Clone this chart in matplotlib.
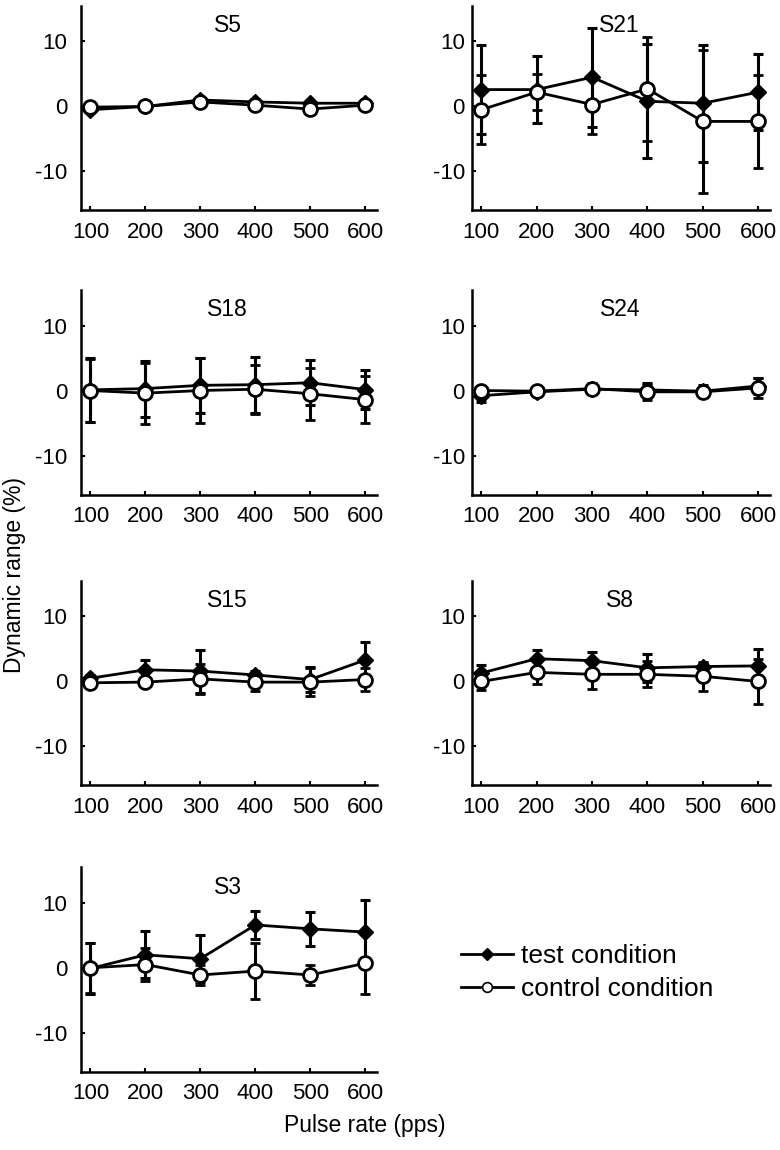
import matplotlib
matplotlib.use("Agg")
import matplotlib.pyplot as plt
from matplotlib.lines import Line2D

plt.rcParams['font.family'] = ['Liberation Sans', 'DejaVu Sans']
plt.rcParams['axes.unicode_minus'] = False

rates = [100, 200, 300, 400, 500, 600]
subjects = ['S5', 'S21', 'S18', 'S24', 'S15', 'S8', 'S3']

# test condition (filled diamonds): mean and error
test_mean = {
    'S5':  [-0.5, 0.0, 1.0, 0.7, 0.5, 0.5],
    'S21': [2.6, 2.6, 4.5, 0.8, 0.5, 2.2],
    'S18': [0.1, 0.3, 0.8, 0.9, 1.2, 0.15],
    'S24': [-0.8, -0.2, 0.2, 0.1, -0.1, 0.7],
    'S15': [0.5, 1.8, 1.6, 1.0, 0.3, 3.3],
    'S8':  [1.3, 3.5, 3.2, 2.1, 2.3, 2.4],
    'S3':  [-0.1, 2.0, 1.4, 6.6, 6.0, 5.5],
}
test_err = {
    'S5':  [0.4, 0.4, 0.5, 0.4, 0.4, 0.4],
    'S21': [6.9, 5.1, 7.6, 8.8, 9.0, 5.8],
    'S18': [4.9, 4.3, 4.2, 4.3, 3.5, 3.0],
    'S24': [1.0, 0.5, 0.8, 1.1, 0.9, 1.3],
    'S15': [0.5, 1.5, 3.3, 0.6, 1.9, 2.7],
    'S8':  [1.3, 1.3, 1.4, 2.2, 0.5, 2.6],
    'S3':  [3.9, 3.6, 3.6, 2.1, 2.6, 5.0],
}
# control condition (open circles): mean and error
ctrl_mean = {
    'S5':  [-0.1, 0.0, 0.7, 0.2, -0.4, 0.2],
    'S21': [-0.5, 2.2, 0.3, 2.7, -2.3, -2.3],
    'S18': [0.0, -0.4, 0.0, 0.2, -0.5, -1.4],
    'S24': [0.0, -0.1, 0.3, -0.2, -0.2, 0.4],
    'S15': [-0.2, -0.1, 0.4, -0.1, -0.1, 0.3],
    'S8':  [0.0, 1.4, 1.1, 1.1, 0.8, 0.0],
    'S3':  [0.0, 0.5, -1.1, -0.5, -1.1, 0.7],
}
ctrl_err = {
    'S5':  [0.4, 0.4, 0.4, 0.4, 0.4, 0.4],
    'S21': [5.3, 2.8, 4.5, 8.0, 11.0, 7.2],
    'S18': [4.8, 4.7, 5.0, 3.8, 4.0, 3.6],
    'S24': [0.6, 0.6, 0.9, 1.2, 0.8, 1.5],
    'S15': [0.4, 0.4, 2.3, 1.3, 2.1, 1.7],
    'S8':  [1.3, 1.8, 2.3, 2.0, 2.2, 3.4],
    'S3':  [3.8, 2.5, 1.5, 4.3, 1.6, 4.7],
}

fig = plt.figure(figsize=(7.8, 11.5), dpi=100)

col_x = [0.104, 0.605]
col_w = [0.379, 0.382]
row_y = [0.817, 0.570, 0.317, 0.068]
h = 0.178

for i, s in enumerate(subjects):
    r, c = divmod(i, 2)
    ax = fig.add_axes([col_x[c], row_y[r], col_w[c], h])
    ax.errorbar(rates, test_mean[s], yerr=test_err[s], color='black', lw=2.0,
                elinewidth=2.2, capsize=3.6, capthick=2.2, marker='D', ms=8,
                mfc='black', mec='black', zorder=2)
    ax.errorbar(rates, ctrl_mean[s], yerr=ctrl_err[s], color='black', lw=2.0,
                elinewidth=2.2, capsize=3.6, capthick=2.2, marker='o', ms=10,
                mfc='white', mec='black', mew=2.0, zorder=3)
    ax.set_xlim(83, 621)
    ax.set_ylim(-16, 15.5)
    ax.set_xticks(rates)
    ax.set_yticks([-10, 0, 10])
    ax.spines['top'].set_visible(False)
    ax.spines['right'].set_visible(False)
    ax.spines['left'].set_linewidth(1.8)
    ax.spines['bottom'].set_linewidth(1.8)
    ax.tick_params(direction='in', length=3, width=1.5, labelsize=16)
    ax.tick_params(axis='x', pad=8)
    ax.tick_params(axis='y', pad=10 if c == 0 else 5)
    ax.text(350, 12.4, s, ha='center', va='center', fontsize=16.5)

handles = [
    Line2D([], [], color='black', lw=2.0, marker='D', ms=6, mfc='black'),
    Line2D([], [], color='black', lw=2.0, marker='o', ms=7, mfc='white', mew=1.2),
]
fig.legend(handles, ['test condition', 'control condition'], loc='upper left',
           bbox_to_anchor=(0.56, 0.2), frameon=False, fontsize=19,
           handlelength=2.0, handletextpad=0.3, labelspacing=0.35)

fig.text(0.019, 0.5, 'Dynamic range (%)', rotation=90, ha='center', va='center',
         fontsize=16.5)
fig.text(0.468, 0.021, 'Pulse rate (pps)', ha='center', va='center', fontsize=16.5)

fig.savefig('out.png', dpi=100)
